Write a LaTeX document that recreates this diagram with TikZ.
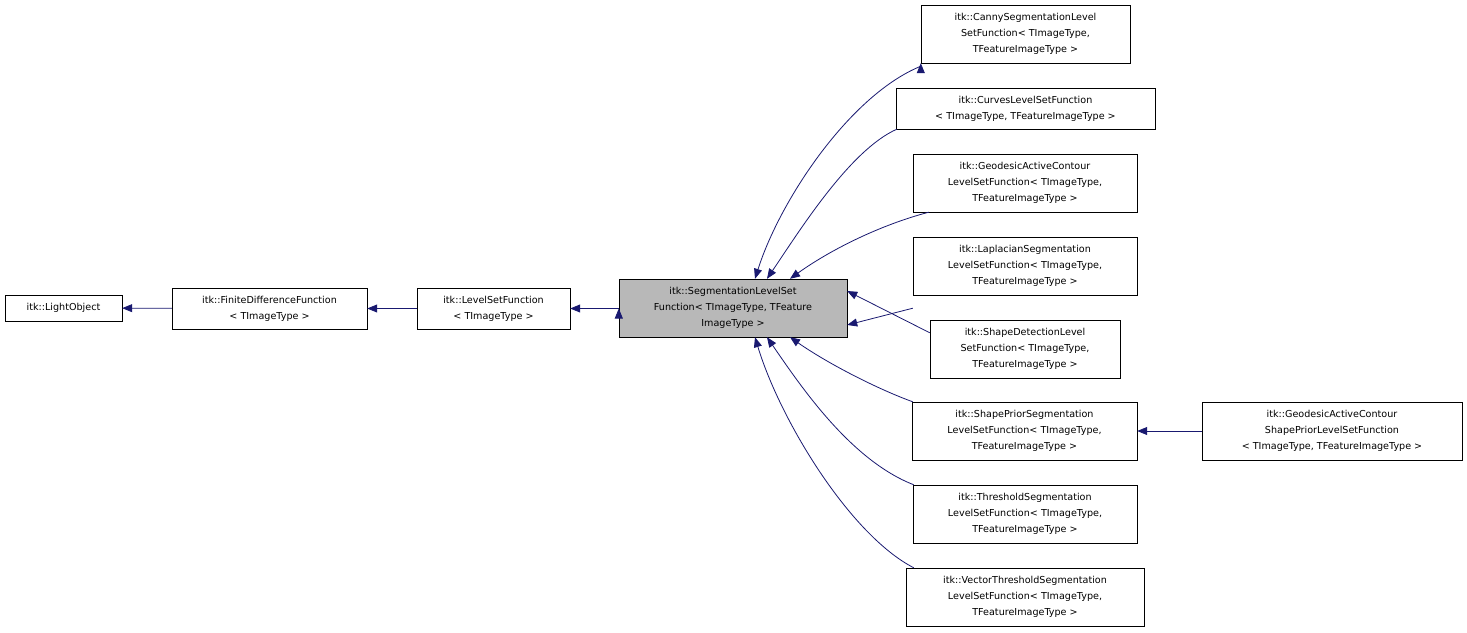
\documentclass[tikz,border=0pt]{standalone}
\usepackage{fontspec}
\setmainfont{DejaVu Sans}
\usetikzlibrary{arrows.meta}
\definecolor{edge}{HTML}{191970}
\begin{document}
\begin{tikzpicture}[x=1pt,y=-1pt,
  box/.style={draw=black,fill=white,align=center,inner sep=0pt,font=\fontsize{9.6}{16}\selectfont},
  e/.style={draw=edge,line width=0.8pt,-{Triangle[length=10pt,width=8pt,fill=edge]}}]
\useasboundingbox (0,0) rectangle (1467,632);
\node[box,minimum width=117,minimum height=26] (lo) at (63.5,308) {itk::LightObject};
\node[box,minimum width=195,minimum height=41] (fd) at (269.5,308.5) {itk::FiniteDifferenceFunction\\{}< TImageType >};
\node[box,minimum width=153,minimum height=41] (ls) at (493.5,308.5) {itk::LevelSetFunction\\{}< TImageType >};
\node[box,fill=black!28,minimum width=228,minimum height=58] (seg) at (733,308) {itk::SegmentationLevelSet\\Function< TImageType, TFeature\\ImageType >};
\node[box,minimum width=209,minimum height=58] (canny) at (1025.5,34) {itk::CannySegmentationLevel\\SetFunction< TImageType,\\TFeatureImageType >};
\node[box,minimum width=259,minimum height=41] (curves) at (1025.5,108.5) {itk::CurvesLevelSetFunction\\{}< TImageType, TFeatureImageType >};
\node[box,minimum width=224,minimum height=58] (geo) at (1025,183) {itk::GeodesicActiveContour\\LevelSetFunction< TImageType,\\TFeatureImageType >};
\node[box,minimum width=224,minimum height=58] (lap) at (1025,266) {itk::LaplacianSegmentation\\LevelSetFunction< TImageType,\\TFeatureImageType >};
\node[box,minimum width=190,minimum height=58] (sd) at (1025,349) {itk::ShapeDetectionLevel\\SetFunction< TImageType,\\TFeatureImageType >};
\node[box,minimum width=225,minimum height=58] (sp) at (1024.5,431) {itk::ShapePriorSegmentation\\LevelSetFunction< TImageType,\\TFeatureImageType >};
\node[box,minimum width=224,minimum height=58] (th) at (1025,514) {itk::ThresholdSegmentation\\LevelSetFunction< TImageType,\\TFeatureImageType >};
\node[box,minimum width=238,minimum height=58] (vt) at (1025,597) {itk::VectorThresholdSegmentation\\LevelSetFunction< TImageType,\\TFeatureImageType >};
\node[box,minimum width=260,minimum height=58] (gsp) at (1332,431) {itk::GeodesicActiveContour\\ShapePriorLevelSetFunction\\{}< TImageType, TFeatureImageType >};
\draw[e] (fd) -- (lo);
\draw[e] (ls) -- (fd);
\draw[e] (seg.west |- ls) -- (ls);
\draw[e] (seg.west |- ls) ++(0,0) coordinate (dummy);
\draw[e] (canny.south west) ++(0,0) coordinate (c1);
\draw[e] ([yshift=-3]canny.south west) .. controls (850,95) and (780,200) .. ([xshift=22]seg.north);
\draw[e] ([xshift=1]curves.south west) .. controls (850,150) and (800,230) .. ([xshift=34]seg.north);
\draw[e] ([xshift=16]geo.south west) .. controls (880,225) and (830,250) .. ([xshift=57]seg.north);
\draw[e] ([yshift=-13]lap.south west) -- ([yshift=-17]seg.east);
\draw[e] ([yshift=-13]sd.north west) -- ([yshift=17]seg.east);
\draw[e] ([xshift=1]sp.north west) .. controls (880,390) and (830,365) .. ([xshift=57]seg.south);
\draw[e] ([xshift=1]th.north west) .. controls (850,460) and (800,385) .. ([xshift=34]seg.south);
\draw[e] ([xshift=8]vt.north west) .. controls (850,535) and (780,420) .. ([xshift=22]seg.south);
\draw[e] (gsp) -- (sp);
\end{tikzpicture}
\end{document}
